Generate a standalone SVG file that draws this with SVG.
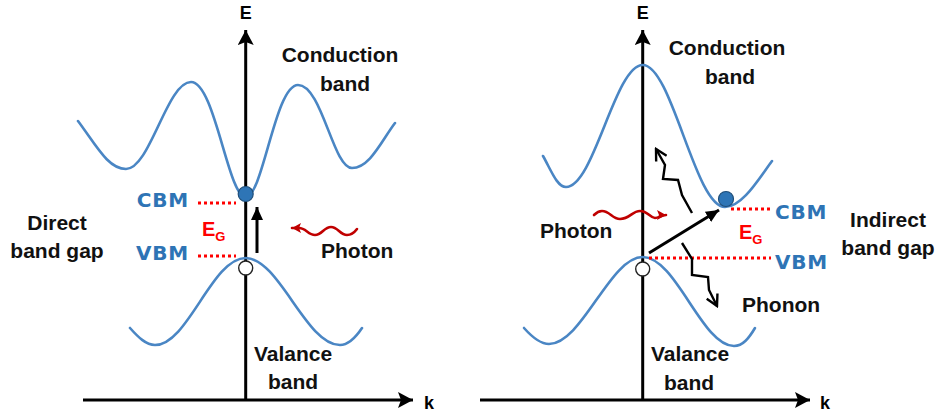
<svg xmlns="http://www.w3.org/2000/svg" width="937" height="416" viewBox="0 0 937 416">
<style>
.band{fill:none;stroke:#4a86c4;stroke-width:2.6;stroke-linecap:round}
.axis{stroke:#000;stroke-width:3;fill:none}
.arr{stroke:#000;stroke-width:3;fill:none}
.zig{stroke:#000;stroke-width:2.4;fill:none;stroke-linejoin:miter}
.wave{stroke:#c00000;stroke-width:2.6;fill:none;stroke-linecap:round}
.dot{stroke:#ff0000;stroke-width:3;stroke-dasharray:3 3;fill:none}
.t{font-family:"Liberation Sans",Arial,sans-serif;font-weight:bold;font-size:21px;fill:#111}
.lvl{font-family:"DejaVu Sans",Verdana,sans-serif;font-weight:bold;font-size:20px;fill:#2e74b5;letter-spacing:0.8px}
.eg{font-family:"Liberation Sans",Arial,sans-serif;font-weight:bold;font-size:20px;fill:#ff0000}
.ax{font-family:"Liberation Sans",Arial,sans-serif;font-weight:bold;font-size:18px;fill:#000}
.ce{fill:#2e75b6;stroke:#1f4e79;stroke-width:1.2}
.ho{fill:#fff;stroke:#222;stroke-width:1.4}
</style>
<defs>
<marker id="axh" markerUnits="userSpaceOnUse" viewBox="0 0 16 16" refX="15" refY="8" markerWidth="16" markerHeight="16" orient="auto">
<path d="M0,0 L15,8 L0,16 L3,8 Z" fill="#000"/>
</marker>
<marker id="ah" markerUnits="userSpaceOnUse" viewBox="0 0 14 12" refX="13" refY="6" markerWidth="14" markerHeight="12" orient="auto">
<path d="M0,0 L13,6 L0,12 Z" fill="#000"/>
</marker>
<marker id="rh" markerUnits="userSpaceOnUse" viewBox="0 0 10 10" refX="9" refY="5" markerWidth="10" markerHeight="10" orient="auto">
<path d="M0,0 L9,5 L0,10 L2,5 Z" fill="#c00000"/>
</marker>
<marker id="vh" markerUnits="userSpaceOnUse" viewBox="0 0 14 14" refX="12" refY="7" markerWidth="14" markerHeight="14" orient="auto">
<path d="M1,1 L12,7 L1,13" fill="none" stroke="#000" stroke-width="2.4"/>
</marker>
</defs>

<g id="left-panel">
<g id="left-axes">
<line class="axis" x1="245.7" y1="400" x2="245.7" y2="30" marker-end="url(#axh)"/>
<line class="axis" x1="83" y1="400" x2="413" y2="400" marker-end="url(#axh)"/>
<text class="ax" x="245.7" y="19" text-anchor="middle">E</text>
<text class="ax" x="424" y="409">k</text>
</g>
<g id="left-conduction-band">
<path class="band" d="M78,121 C96,145 108,169 126,169 C150,169 167,82 191,82 C215,82 228,197 245.7,197 C263,197 275,85 298,85 C322,85 333,168 352,168 C370,168 382,140 395,123"/>
<text class="t" x="340" y="62" text-anchor="middle">Conduction</text>
<text class="t" x="345" y="91" text-anchor="middle">band</text>
</g>
<g id="left-valence-band">
<path class="band" d="M130,328 C138,337 146,345 155,345 C188,345 212,258 245.7,258 C279,258 306,345 340,345 C349,345 356,337 362,328"/>
<text class="t" x="293" y="361" text-anchor="middle">Valance</text>
<text class="t" x="293" y="389" text-anchor="middle">band</text>
</g>
<g id="left-levels">
<line class="dot" x1="198" y1="203" x2="236" y2="203"/>
<line class="dot" x1="198" y1="256" x2="236" y2="256"/>
<text class="lvl" x="189" y="207" text-anchor="end">CBM</text>
<text class="lvl" x="189" y="260" text-anchor="end">VBM</text>
<text class="eg" x="202" y="236">E<tspan font-size="13" dy="5">G</tspan></text>
</g>
<g id="left-carriers">
<circle class="ce" cx="245.7" cy="194" r="7.5"/>
<circle class="ho" cx="245.7" cy="268" r="7"/>
</g>
<g id="left-connectors">
<line class="arr" x1="257" y1="253" x2="257" y2="207" marker-end="url(#ah)"/>
<path class="wave" d="M357,229 C354,233 351,235 347,235 C340,235 338,227 331,227 C324,227 322,235 315,235 C308,235 306,228 299,228 L292,228" marker-end="url(#rh)"/>
</g>
<text class="t" x="321" y="258">Photon</text>
<text class="t" x="57" y="230" text-anchor="middle">Direct</text>
<text class="t" x="57" y="258" text-anchor="middle">band gap</text>
</g>

<g id="right-panel">
<g id="right-axes">
<line class="axis" x1="642.7" y1="400" x2="642.7" y2="30" marker-end="url(#axh)"/>
<line class="axis" x1="480" y1="400" x2="810" y2="400" marker-end="url(#axh)"/>
<text class="ax" x="642.7" y="19" text-anchor="middle">E</text>
<text class="ax" x="820" y="409">k</text>
</g>
<g id="right-conduction-band">
<path class="band" d="M543,156 C551,170 557,187 566,187 C594,187 615,65 642.7,65 C672,65 695,207 725,207 C742,207 758,180 772,161"/>
<text class="t" x="727" y="55" text-anchor="middle">Conduction</text>
<text class="t" x="730" y="84" text-anchor="middle">band</text>
</g>
<g id="right-valence-band">
<path class="band" d="M524,328 C532,337 540,344 549,344 C582,344 610,257 642.7,257 C676,257 702,346 734,346 C743,346 749,338 755,328"/>
<text class="t" x="690" y="361" text-anchor="middle">Valance</text>
<text class="t" x="689" y="390" text-anchor="middle">band</text>
</g>
<g id="right-levels">
<line class="dot" x1="731" y1="209" x2="770" y2="209"/>
<line class="dot" x1="649" y1="258" x2="771" y2="258"/>
<text class="lvl" x="775" y="219">CBM</text>
<text class="lvl" x="775" y="269">VBM</text>
<text class="eg" x="739" y="239">E<tspan font-size="13" dy="5">G</tspan></text>
</g>
<g id="right-carriers">
<circle class="ce" cx="726" cy="199" r="7.5"/>
<circle class="ho" cx="642.7" cy="269" r="7"/>
</g>
<g id="right-connectors">
<line class="arr" x1="649" y1="253" x2="719" y2="210" marker-end="url(#ah)"/>
<path class="wave" d="M594,215 C597,212 599,211 602,211 C610,211 612,219 620,219 C630,219 632,211 640,211 C648,211 650,218 655,218 C659,218 661,215 666,215" marker-end="url(#rh)"/>
<path class="zig" d="M692,213 L682,195 L678,180 L663,179 L665,165 L656,149" marker-end="url(#vh)"/>
<path class="zig" d="M682,243 L692,259 L692,275 L708,277 L709,290 L717,306" marker-end="url(#vh)"/>
</g>
<text class="t" x="540" y="238">Photon</text>
<text class="t" x="742" y="312">Phonon</text>
<text class="t" x="888" y="227" text-anchor="middle">Indirect</text>
<text class="t" x="888" y="255" text-anchor="middle">band gap</text>
</g>
</svg>
